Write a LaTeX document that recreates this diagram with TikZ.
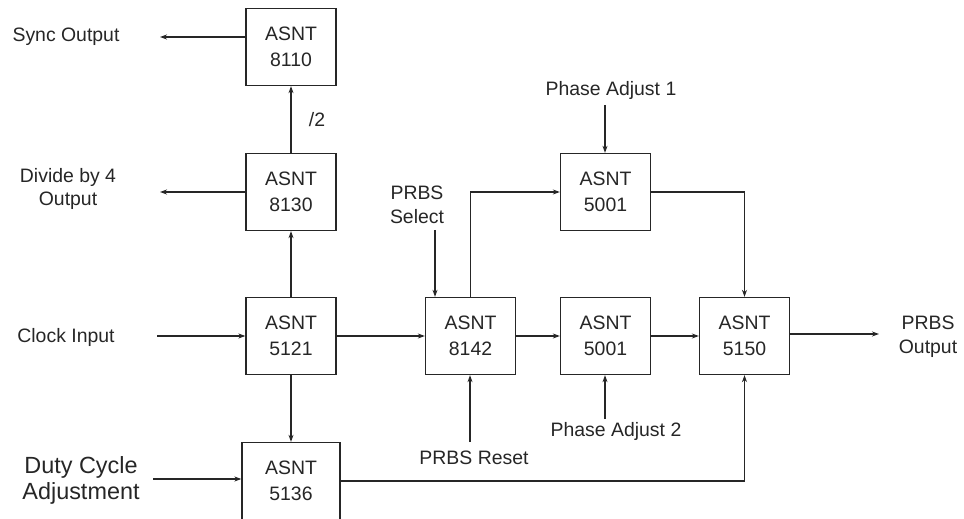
\documentclass[tikz,border=0pt]{standalone}
\usepackage{fontspec}
\setmainfont{Liberation Sans}
\usetikzlibrary{positioning, arrows.meta}

\begin{document}
\begin{tikzpicture}
	[x=1bp, y=-1bp, on grid, line width=1.3bp, draw=black!85, text=black!85,
	 >={Stealth[length=7bp,width=5bp]},
	 chip/.style={draw, fill=white, minimum width=90bp, minimum height=77bp, align=center,
	 	font=\fontsize{19.5}{26}\selectfont},
	 lbl/.style={align=center, font=\fontsize{19.5}{24}\selectfont}]
   \useasboundingbox (0,0) rectangle (964,519);
   % chips
   \node[chip] (b5121) at (291,336) {ASNT\\5121};
   \node[chip] (b8130) [above=144bp of b5121] {ASNT\\8130};
   \node[chip] (b8110) [above=145bp of b8130] {ASNT\\8110};
   \node[chip, minimum width=98bp] (b5136) [below=145bp of b5121] {ASNT\\5136};
   \node[chip] (b8142) [right=179.5bp of b5121] {ASNT\\8142};
   \node[chip] (b5001b) [right=135bp of b8142] {ASNT\\5001};
   \node[chip] (b5001a) [above=144bp of b5001b] {ASNT\\5001};
   \node[chip] (b5150) [right=139bp of b5001b] {ASNT\\5150};
   % labels
   \node[lbl] (sync) at (66,37) {Sync Output};
   \node[lbl] (div4) at (68,189) {Divide by 4\\Output};
   \node[lbl] (clk) at (66,337) {Clock Input};
   \node[lbl, font=\fontsize{23.5}{26}\selectfont] (duty) at (81,480) {Duty Cycle\\Adjustment};
   \node[lbl] (ph1) at (611,90) {Phase Adjust 1};
   \node[lbl] (sel) at (417,205) {PRBS\\Select};
   \node[lbl] (rst) at (474,458) {PRBS Reset};
   \node[lbl] (ph2) at (616,431) {Phase Adjust 2};
   \node[lbl] (prbsout) at (928,337) {PRBS\\Output};
   % free ends
   \coordinate (syncend) at (160,37);
   \coordinate (div4end) at (160,192);
   \coordinate (clkin) at (157,336);
   \coordinate (dutyin) at (153,479);
   \coordinate (ph1in) at (605,105);
   \coordinate (selin) at (435,230);
   \coordinate (rstin) at (470,442);
   \coordinate (ph2in) at (605,419);
   \coordinate (outend) at (879,334);
    \path[->]
    (b5121) edge (b8130)
    (b8130) edge node[lbl, right=14bp] {/2} (b8110)
    (b5121) edge (b5136)
    (b5121) edge (b8142)
    (b8142) edge (b5001b)
    (b5001b) edge (b5150)
    (b5150.east |- outend) edge (outend)
    (b8110.west |- syncend) edge (syncend)
    (b8130.west |- div4end) edge (div4end)
    (clkin) edge (clkin -| b5121.west)
    (dutyin) edge (dutyin -| b5136.west)
    (ph1in) edge (ph1in |- b5001a.north)
    (selin) edge (selin |- b8142.north)
    (rstin) edge (rstin |- b8142.south)
    (ph2in) edge (ph2in |- b5001b.south);
    \draw[->] (b8142) |- (b5001a);
    \draw[->] (b5001a) -| (b5150);
    \draw[->] (b5136) -| (b5150);
\end{tikzpicture}
\end{document}
